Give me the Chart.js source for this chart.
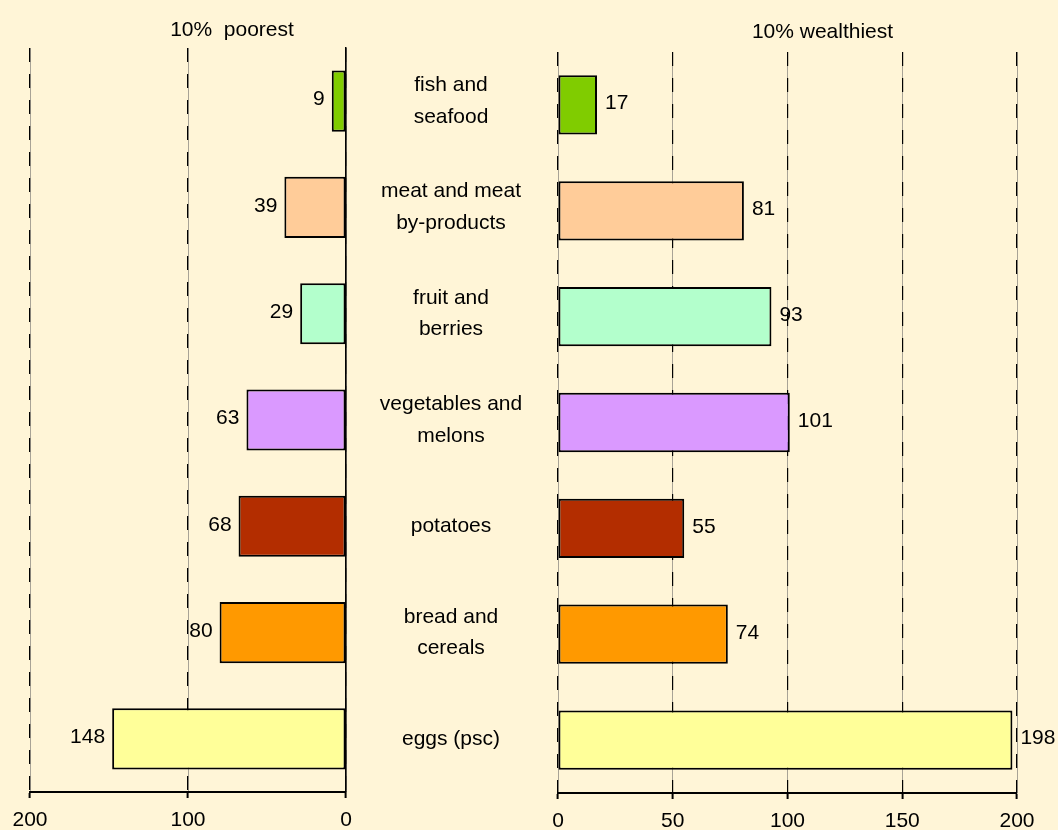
<!DOCTYPE html>
<html>
<head>
<meta charset="utf-8">
<script src="https://cdn.jsdelivr.net/npm/chart.js@4"></script>
<style>
  html, body { margin: 0; padding: 0; width: 1058px; height: 830px; overflow: hidden; background: #FFF5D7; }
  .panel { position: absolute; left: 0; top: 0; width: 1058px; height: 850px; }
</style>
</head>
<body>
<div class="panel"><canvas id="poorest" width="1058" height="850"></canvas></div>
<div class="panel"><canvas id="wealthiest" width="1058" height="850"></canvas></div>
<script>
// Food groups, top to bottom
const categories = [
  ['fish and', 'seafood'],
  ['meat and meat', 'by-products'],
  ['fruit and', 'berries'],
  ['vegetables and', 'melons'],
  ['potatoes'],
  ['bread and', 'cereals'],
  ['eggs (psc)']
];
const poorestValues = [9, 39, 29, 63, 68, 80, 148];
const wealthiestValues = [17, 81, 93, 101, 55, 74, 198];
const barColors = ['#80CC00', '#FFCC99', '#B3FFCC', '#DA99FF', '#B32D00', '#FF9900', '#FFFF99'];
const poorestTicks = [0, 100, 200];
const wealthiestTicks = [0, 50, 100, 150, 200];
const poorestTitle = '10%  poorest';
const wealthiestTitle = '10% wealthiest';

const FONT_FAMILY = '"Liberation Sans", Arial, sans-serif';
const FONT_SIZE = 21;
Chart.defaults.font.family = FONT_FAMILY;
Chart.defaults.font.size = FONT_SIZE;
Chart.defaults.color = '#000';

// Centre the two-line category names in the gap between the panels
const measureCtx = document.createElement('canvas').getContext('2d');
measureCtx.font = FONT_SIZE + 'px ' + FONT_FAMILY;
const widestName = Math.max(...categories.flat().map(s => measureCtx.measureText(s).width));
const GAP_HALF = 105;

// Value written at the outer end of each bar
const valueLabels = {
  id: 'valueLabels',
  afterDatasetsDraw(chart, args, opts) {
    const ctx = chart.ctx;
    const meta = chart.getDatasetMeta(0);
    const data = chart.data.datasets[0].data;
    ctx.save();
    ctx.font = FONT_SIZE + 'px ' + FONT_FAMILY;
    ctx.fillStyle = '#000';
    ctx.textBaseline = 'middle';
    const toLeft = opts.side === 'left';
    ctx.textAlign = toLeft ? 'right' : 'left';
    meta.data.forEach((bar, i) => {
      ctx.fillText(String(data[i]), bar.x + (toLeft ? -opts.gap : opts.gap), bar.y + opts.dy);
    });
    ctx.restore();
  }
};

// Panel heading above each plot
const panelHeading = {
  id: 'panelHeading',
  afterDraw(chart, args, opts) {
    const { ctx, chartArea } = chart;
    ctx.save();
    ctx.font = FONT_SIZE + 'px ' + FONT_FAMILY;
    ctx.fillStyle = '#000';
    ctx.textAlign = 'center';
    ctx.textBaseline = 'alphabetic';
    ctx.fillText(opts.text, (chartArea.left + chartArea.right) / 2 + opts.shift, opts.baseline);
    ctx.restore();
  }
};

function setTicks(list) {
  return scale => { scale.ticks = list.map(v => ({ value: v })); };
}

function valueAxis(ticks, reverse) {
  return {
    type: 'linear', min: 0, max: 200, reverse, position: 'bottom',
    afterBuildTicks: setTicks(ticks),
    ticks: { padding: 10, font: { size: FONT_SIZE } },
    grid: { color: '#000', lineWidth: 1.2, drawTicks: true, tickLength: 6, tickColor: '#000', tickWidth: 2, z: -1 },
    border: { display: true, color: '#000', width: 2, dash: [14, 12] }
  };
}

function underlayAxis(ticks, reverse) {
  return {
    type: 'linear', min: 0, max: 200, reverse, position: 'top',
    afterBuildTicks: setTicks(ticks),
    ticks: { display: false },
    grid: { color: '#A8A396', lineWidth: 1, drawTicks: false, z: -2 },
    border: { display: false }
  };
}

function barDataset(values, thickness) {
  return {
    data: values,
    backgroundColor: barColors,
    borderColor: '#000',
    borderWidth: 2,
    borderSkipped: false,
    categoryPercentage: 1,
    barPercentage: thickness
  };
}

new Chart(document.getElementById('poorest'), {
  type: 'bar',
  data: { labels: categories, datasets: [barDataset(poorestValues, 0.575)] },
  options: {
    indexAxis: 'y',
    responsive: false,
    animation: false,
    layout: { padding: { left: 30, right: 500, top: 48, bottom: 6.8 } },
    plugins: {
      legend: { display: false },
      tooltip: { enabled: false },
      valueLabels: { side: 'left', gap: 7, dy: -1.5 },
      panelHeading: { text: poorestTitle, shift: 44, baseline: 36 }
    },
    scales: {
      xg: underlayAxis(poorestTicks, true),
      x: valueAxis(poorestTicks, true),
      y: {
        type: 'category',
        position: 'right',
        grid: { display: false, drawTicks: false },
        border: { display: true, color: '#000', width: 1.5 },
        ticks: {
          autoSkip: false,
          crossAlign: 'center',
          padding: GAP_HALF - widestName / 2,
          font: { size: FONT_SIZE, lineHeight: 1.5 }
        },
        afterFit(scale) {
          scale.width = 212;
          scale.paddingTop = 0;
          scale.paddingBottom = 0;
        }
      }
    }
  },
  plugins: [valueLabels, panelHeading]
});

new Chart(document.getElementById('wealthiest'), {
  type: 'bar',
  data: { labels: categories, datasets: [barDataset(wealthiestValues, 0.56)] },
  options: {
    indexAxis: 'y',
    responsive: false,
    animation: false,
    layout: { padding: { left: 558, right: 41, top: 52, bottom: 5.8 } },
    plugins: {
      legend: { display: false },
      tooltip: { enabled: false },
      valueLabels: { side: 'right', gap: 8, dy: -1.5 },
      panelHeading: { text: wealthiestTitle, shift: 35, baseline: 38 }
    },
    scales: {
      xg: underlayAxis(wealthiestTicks, false),
      x: valueAxis(wealthiestTicks, false),
      y: { type: 'category', display: false }
    }
  },
  plugins: [valueLabels, panelHeading]
});
</script>
</body>
</html>
